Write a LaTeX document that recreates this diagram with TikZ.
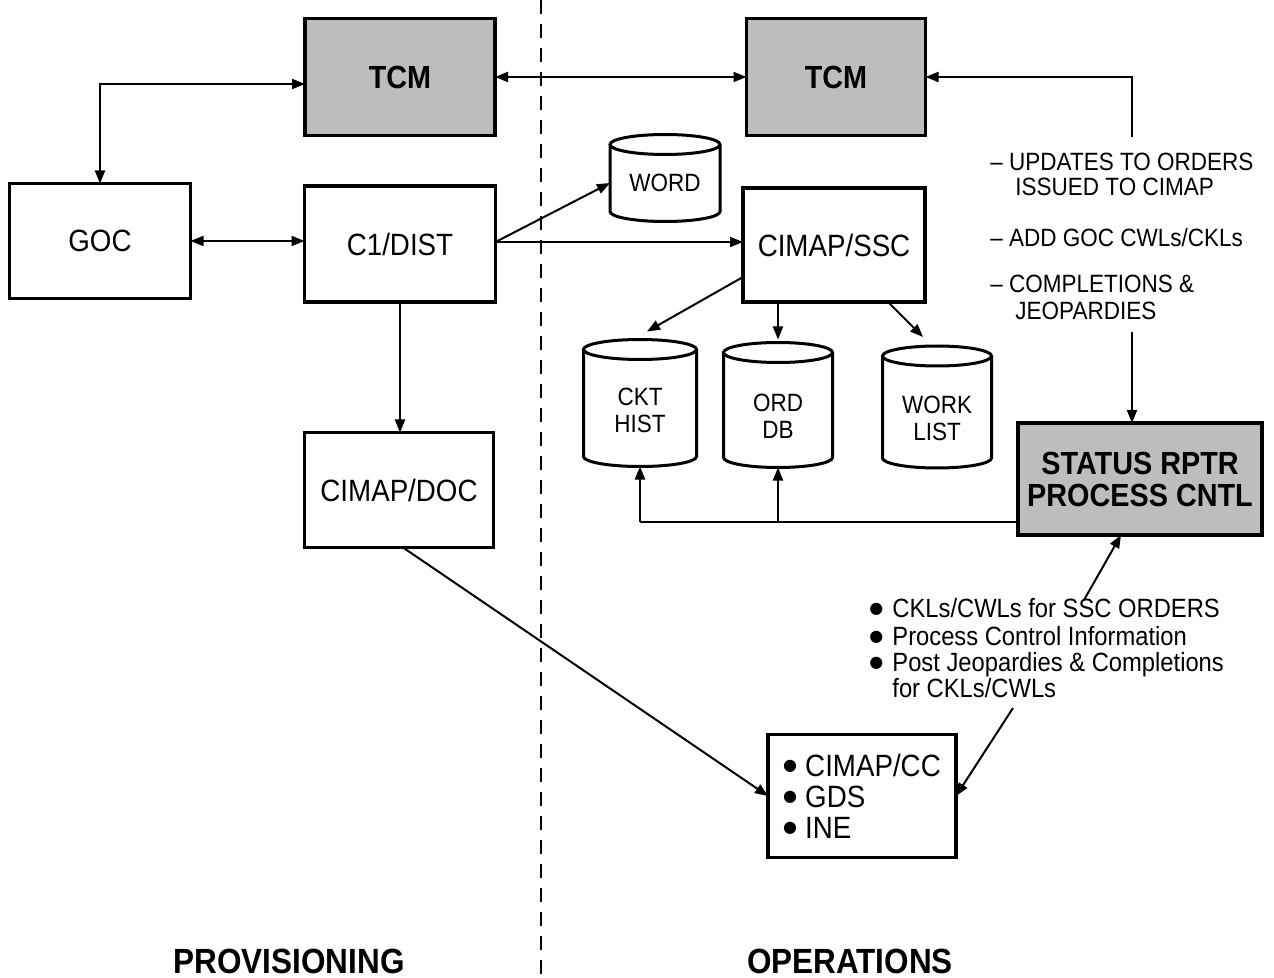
\documentclass[tikz,border=0pt]{standalone}
\usepackage{fontspec}
\setmainfont{Liberation Sans}[FakeStretch=0.9]
\newfontfamily\dotfont{DejaVu Sans}
\usetikzlibrary{arrows.meta,calc}

% database drum drawn around an empty rectangular node: #1 node name, #2 x radius
\newcommand{\dbdrum}[2]{%
  \draw[line width=1.5pt]
    ([yshift=-5pt]#1.north west) -- ([yshift=5pt]#1.south west)
    arc[start angle=180,end angle=360,x radius=#2,y radius=5pt]
    -- ([yshift=-5pt]#1.north east)
    arc[start angle=0,end angle=360,x radius=#2,y radius=5pt];}
% round list bullet: #1 = width of the bullet column, #2 = raise
\newcommand{\listdot}[2]{\makebox[#1][l]{\raisebox{#2}{\dotfont\fontsize{8}{8}\selectfont ●}}}

\begin{document}
\begin{tikzpicture}[x=0.5pt,y=-0.5pt,
  box/.style={draw,line width=1.8pt,inner sep=0pt,outer sep=0pt,
    font=\fontsize{15.4}{18}\selectfont},
  shaded/.style={box,fill=black!26,align=center,
    font=\bfseries\fontsize{16}{16}\selectfont},
  drum/.style={inner sep=0pt,outer sep=0pt},
  drumtext/.style={inner sep=0pt,align=center,font=\fontsize{12.5}{13.5}\selectfont},
  note/.style={inner sep=0pt,anchor=mid west,font=\fontsize{12.5}{14}\selectfont},
  bnote/.style={inner sep=0pt,anchor=mid west,font=\fontsize{13.2}{14}\selectfont},
  zone/.style={inner sep=0pt,font=\bfseries\fontsize{17.5}{20}\selectfont},
  tip/.tip={Triangle[length=6.5pt,width=5pt]},
  conn/.style={line width=1pt,-tip},
  both/.style={line width=1pt,tip-tip},
  plain/.style={line width=1pt}]

\useasboundingbox (0,0) rectangle (1274,978);

% boundary between the two halves
\draw[line width=1pt,dash pattern=on 7pt off 5pt] (541,0) -- (541,978);

% boxes
\node[shaded,minimum width=95pt,minimum height=58.5pt] (tcmL) at (400,77) {TCM};
\node[shaded,minimum width=89.5pt,minimum height=58.5pt] (tcmR) at (836,77) {TCM};
\node[box,minimum width=90.5pt,minimum height=57.5pt] (goc) at (100,241) {GOC};
\node[box,minimum width=95.5pt,minimum height=58pt] (c1) at (400,244) {C1/DIST};
\node[box,minimum width=91pt,minimum height=57pt] (ssc) at (834,245) {CIMAP/SSC};
\node[box,minimum width=94.5pt,minimum height=57.5pt] (doc) at (399,490) {CIMAP/DOC};
\node[shaded,minimum width=122pt,minimum height=56pt] (status) at (1140,479)
  {STATUS RPTR\\PROCESS CNTL};
\node[box,minimum width=94pt,minimum height=61.5pt,align=left,
  font=\fontsize{15.4}{15.5}\selectfont] (cc) at (862,796)
  {\listdot{11pt}{2.9pt}CIMAP/CC\\\listdot{11pt}{2.9pt}GDS\\\listdot{11pt}{2.9pt}INE};

% database drums
\node[drum,minimum width=55pt,minimum height=43.5pt] (word) at (665,178) {};
\node[drum,minimum width=56.5pt,minimum height=63.5pt] (ckt) at (640,403) {};
\node[drum,minimum width=54.5pt,minimum height=62.5pt] (ord) at (778,405) {};
\node[drum,minimum width=54.5pt,minimum height=61pt] (work) at (937,407) {};
\dbdrum{word}{27.5pt}
\dbdrum{ckt}{28.25pt}
\dbdrum{ord}{27.25pt}
\dbdrum{work}{27.25pt}
\node[drumtext] (wordt) at (665,183) {WORD};
\node[drumtext] (cktt) at (640,410) {CKT\\HIST};
\node[drumtext] (ordt) at (778,416) {ORD\\DB};
\node[drumtext] (workt) at (937,418) {WORK\\LIST};

% notes
\node[note] (u1) at (990,165) {– UPDATES TO ORDERS};
\node[note] (u2) at (1015,190) {ISSUED TO CIMAP};
\node[note] (u3) at (990,241) {– ADD GOC CWLs/CKLs};
\node[note] (u4) at (990,287) {– COMPLETIONS \&};
\node[note] (u5) at (1015,314) {JEOPARDIES};

\node[bnote] (b1) at (869,612) {\listdot{11.5pt}{2pt}CKLs/CWLs for SSC ORDERS};
\node[bnote] (b2) at (869,640) {\listdot{11.5pt}{2pt}Process Control Information};
\node[bnote] (b3) at (869,666) {\listdot{11.5pt}{2pt}Post Jeopardies \& Completions};
\node[bnote] (b4) at (892,692) {for CKLs/CWLs};

% section titles
\node[zone] (prov) at (289,961) {PROVISIONING};
\node[zone] (oper) at (850,961) {OPERATIONS};

% free ends of the note leaders
\coordinate (n1) at (1132,137);
\coordinate (n2) at (1132,332);
\coordinate (pb) at (1084,600);
\coordinate (pc) at (1013,708);
\coordinate (j) at ([yshift=-21.5pt]status.west);

% connectors
\draw[both] (tcmL.east) -- (tcmR.west);
\draw[both] (goc.north) |- ([yshift=-3.5pt]tcmL.west);
\draw[both] (goc.east) -- (goc.east -| c1.west);
\draw[conn] ([yshift=1pt]c1.east) -- ([yshift=-2.5pt]word.west);
\draw[conn] ([yshift=1pt]c1.east) -- ([yshift=1pt]c1.east -| ssc.west);
\draw[conn] (c1.south) -- (c1.south |- doc.north);
\draw[conn] ([xshift=2pt]doc.south) -- (cc.west);
\draw[conn] (n1) |- (tcmR.east);
\draw[conn] (n2) -- (n2 |- status.north);
\draw[conn] ([yshift=-16pt]ssc.west) -- ([shift={(3.5pt,4pt)}]ckt.north);
\draw[conn] (ord.north |- ssc.south) -- ([yshift=1.5pt]ord.north);
\draw[conn] ([xshift=-18.5pt]ssc.south east) -- ([shift={(-7pt,4.5pt)}]work.north);
\draw[plain] (j) -- (j -| ckt.south);
\draw[conn] (j -| ckt.south) -- (ckt.south);
\draw[conn] (j -| ord.south) -- (ord.south);
\draw[conn] (pb) -- ([xshift=-9.5pt]status.south);
\draw[conn] (pc) -- (cc.east);

\end{tikzpicture}
\end{document}
